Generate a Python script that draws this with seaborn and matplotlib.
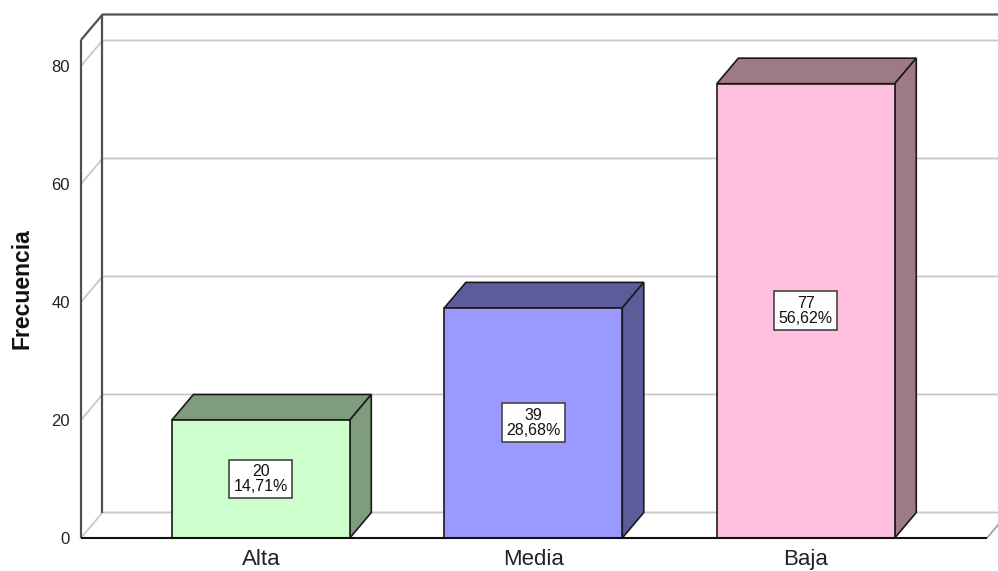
import matplotlib
matplotlib.use("Agg")
import matplotlib.pyplot as plt
import seaborn as sns
import pandas as pd
from matplotlib.patches import Polygon
from matplotlib.lines import Line2D
from matplotlib.transforms import IdentityTransform

# ---- data ----
categories = ["Alta", "Media", "Baja"]
counts = [20, 39, 77]
percents = ["14,71%", "28,68%", "56,62%"]
yticks = [0, 20, 40, 60, 80]

front_colors = ["#ccffcc", "#9999ff", "#ffc0e0"]
side_colors = ["#7f9c7f", "#5c5c9a", "#9e7a88"]

sns.set_theme(style="white")
plt.rcParams["font.family"] = ["Liberation Sans", "DejaVu Sans"]

W, H = 998, 571
fig = plt.figure(figsize=(W / 100, H / 100), dpi=100)
ax = fig.add_axes([81 / W, (H - 538) / H, (987 - 81) / W, (538 - 40) / H])

df = pd.DataFrame({"cat": categories, "n": counts})
sns.barplot(data=df, x="cat", y="n", hue="cat", palette=front_colors,
            saturation=1, width=0.653, edgecolor="#1a1a1a", linewidth=1.2,
            legend=False, ax=ax, zorder=3)

ax.set_xlim(-0.66, 2.665)
ax.set_ylim(0, 84.4)
for s in ax.spines.values():
    s.set_visible(False)
ax.set_xlabel("")
ax.set_ylabel("")
ax.set_yticks(yticks)
ax.tick_params(axis="y", length=0, pad=8, labelsize=12, labelcolor="#222222")
ax.tick_params(axis="x", length=0, pad=8, labelsize=16, labelcolor="#222222")
ax.grid(False)
ax.patch.set_alpha(0)

DX, DY = 21.5, 25.5
T = ax.transData
I = IdentityTransform()


def disp(x, y):
    return T.transform((x, y))


def add_line(xs, ys, color, lw, z):
    ax.add_line(Line2D(xs, ys, color=color, lw=lw, transform=I,
                       clip_on=False, zorder=z, solid_capstyle="butt"))


x0, x1 = ax.get_xlim()
y0, y1 = ax.get_ylim()

# back-wall gridlines and left-wall diagonals
for v in yticks:
    fx, fy = disp(x0, v)
    add_line([fx, fx + DX, W + 50], [fy, fy + DY, fy + DY], "#c8c8c8", 1.3, 1)

# right floor diagonal
rx, ry = disp(x1, 0)
add_line([rx, rx + DX], [ry, ry + DY], "#a0a0a0", 1.3, 1)

# frame dark lines
fxb, fyb = disp(x0, y0)
fxt, fyt = disp(x0, y1)
add_line([fxb, fxt], [fyb, fyt], "#505050", 1.6, 2)
add_line([fxt, fxt + DX, W + 50], [fyt, fyt + DY, fyt + DY], "#505050", 1.6, 2)
add_line([fxb + DX, fxt + DX], [fyb + DY, fyt + DY], "#505050", 1.6, 2)
add_line([fxb, rx], [fyb, ry], "#111111", 1.5, 6)

# 3D faces of the bars
for i, p in enumerate(list(ax.patches)):
    x, w, h = p.get_x(), p.get_width(), p.get_height()
    a = disp(x, h)
    b = disp(x + w, h)
    c = disp(x + w, 0)
    top = [a, b, (b[0] + DX, b[1] + DY), (a[0] + DX, a[1] + DY)]
    side = [c, b, (b[0] + DX, b[1] + DY), (c[0] + DX, c[1] + DY)]
    for pts in (top, side):
        ax.add_patch(Polygon(pts, closed=True, facecolor=side_colors[i],
                             edgecolor="#1a1a1a", lw=1.2, transform=I,
                             clip_on=False, zorder=2.5))

# value labels
for i, (n, pct) in enumerate(zip(counts, percents)):
    ax.text(i, n / 2, f"{n}\n{pct}", ha="center", va="center", fontsize=11.5,
            linespacing=1.0, color="#111111", zorder=7,
            bbox=dict(boxstyle="square,pad=0.28", fc="white", ec="#444444", lw=1.2))

fig.text(22 / W, 1 - 289 / H, "Frecuencia", rotation=90, ha="center",
         va="center", fontsize=16.5, fontweight="bold", color="#111111")

fig.savefig("out.png", dpi=100)
